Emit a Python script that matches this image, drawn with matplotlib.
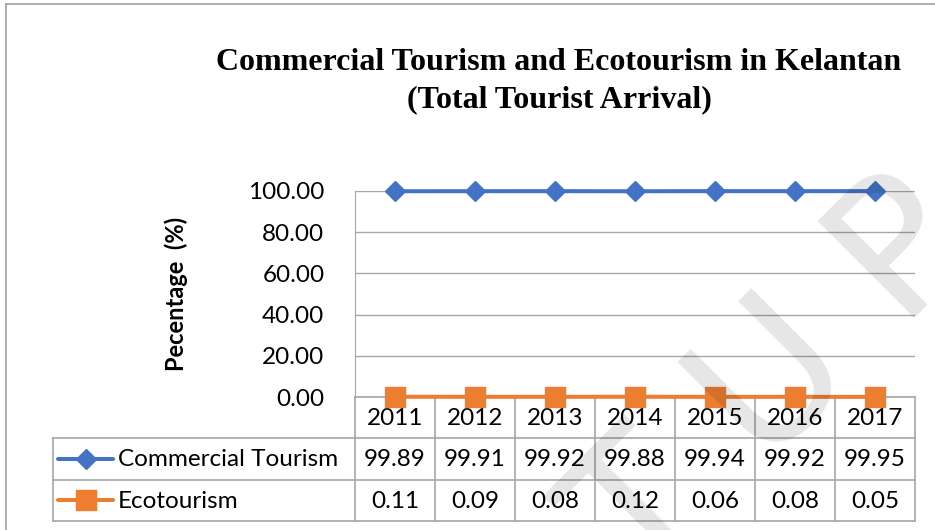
import matplotlib
matplotlib.use('Agg')
import matplotlib.pyplot as plt
from matplotlib.transforms import blended_transform_factory
from matplotlib.lines import Line2D

# data
years = ['2011', '2012', '2013', '2014', '2015', '2016', '2017']
commercial = [99.89, 99.91, 99.92, 99.88, 99.94, 99.92, 99.95]
eco = [0.11, 0.09, 0.08, 0.12, 0.06, 0.08, 0.05]
series_names = ['Commercial Tourism', 'Ecotourism']
yticks = [0, 20, 40, 60, 80, 100]

blue = '#4472C4'
orange = '#ED7D31'
grid_c = '#a6a6a6'
font = 'Lato'
fs = 17.5

fig = plt.figure(figsize=(9.35, 5.3), dpi=100)
ax = fig.add_axes([355/935, 1-397/530, 560/935, 206/530])

x = list(range(len(years)))
ax.plot(x, commercial, color=blue, lw=2.9, marker='D', ms=10.5, clip_on=False, zorder=5)
ax.plot(x, eco, color=orange, lw=2.9, marker='s', ms=14, clip_on=False, zorder=5)

ax.set_xlim(-0.5, len(years) - 0.5)
ax.set_ylim(0, 100)
ax.set_yticks(yticks)
ax.set_yticklabels(['%.2f' % v for v in yticks], fontsize=fs, family=font)
ax.tick_params(axis='y', length=0, pad=22)
ax.set_xticks([])
ax.grid(axis='y', color=grid_c, lw=1)
for s in ['top', 'right', 'bottom']:
    ax.spines[s].set_visible(False)
ax.spines['left'].set_color(grid_c)
ax.set_ylabel('Pecentage  (%)', fontsize=17, fontweight='bold', family=font, labelpad=43)

# data table under the plot
tr = blended_transform_factory(ax.transData, ax.transAxes)
rh = 41.3 / 206
left = -0.5 - (355 - 53) / 80
right = len(years) - 0.5
lkw = dict(color=grid_c, lw=1.2, transform=tr, clip_on=False)
# horizontal lines
ax.add_line(Line2D([-0.5, right], [0, 0], **lkw))
for r in [1, 2, 3]:
    ax.add_line(Line2D([left, right], [-r*rh, -r*rh], **lkw))
# vertical lines
ax.add_line(Line2D([left, left], [-rh, -3*rh], **lkw))
for k in range(len(years) + 1):
    ax.add_line(Line2D([k - 0.5, k - 0.5], [0, -3*rh], **lkw))

tkw = dict(transform=tr, ha='center', va='center', fontsize=fs, family=font, clip_on=False)
for i, yr in enumerate(years):
    ax.text(i, -0.52*rh, yr, **tkw)
    ax.text(i, -1.52*rh, '%.2f' % commercial[i], **tkw)
    ax.text(i, -2.52*rh, '%.2f' % eco[i], **tkw)

# legend keys inside table
kx0 = left + 5/80
kx1 = left + 60/80
kxm = (kx0 + kx1) / 2
for r, (name, c, m, ms) in enumerate(zip(series_names, [blue, orange], ['D', 's'], [10.5, 14])):
    yy = -(1.5 + r) * rh
    ax.add_line(Line2D([kx0, kx1], [yy, yy], color=c, lw=2.9, solid_capstyle='round',
                       transform=tr, clip_on=False))
    ax.add_line(Line2D([kxm], [yy], color=c, marker=m, ms=ms, lw=0, transform=tr, clip_on=False))
    ax.text(left + 65/80, yy - 0.02*rh, name, transform=tr, ha='left', va='center', fontsize=fs,
            family=font, clip_on=False)

# title
fig.text(559/935, 1-62/530, 'Commercial Tourism and Ecotourism in Kelantan',
         ha='center', va='center', fontsize=23, fontweight='bold', family='Liberation Serif')
fig.text(559/935, 1-100/530, '(Total Tourist Arrival)',
         ha='center', va='center', fontsize=23, fontweight='bold', family='Liberation Serif')

# chart border (top and left visible)
fig.add_artist(Line2D([6/935, 6/935], [0, 1-4/530], color='#a0a0a0', lw=1.2))
fig.add_artist(Line2D([6/935, 1], [1-4/530, 1-4/530], color='#a0a0a0', lw=1.2))

# faint watermark
fig.text(775/935, 1-385/530, 'T U P', rotation=45, ha='center', va='center',
         fontsize=135, color='black', alpha=0.1, family='DejaVu Sans', zorder=10)

fig.savefig('out.png', dpi=100)
